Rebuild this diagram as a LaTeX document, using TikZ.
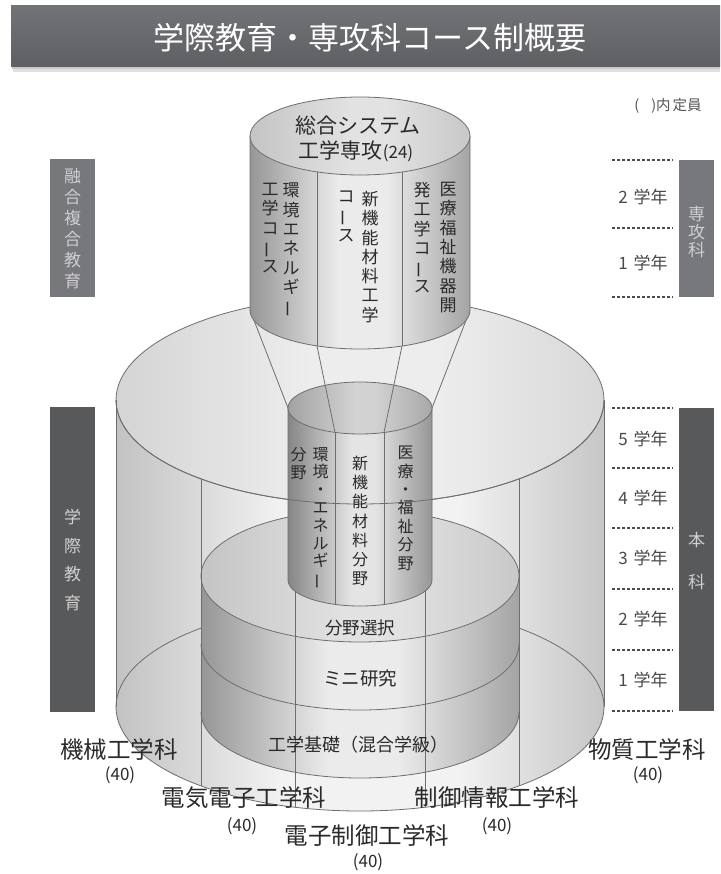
\documentclass[tikz,border=0pt]{standalone}
\usepackage{fontspec}
\setmainfont{Noto Sans CJK JP}
\usepackage{graphicx}
\definecolor{lineg}{HTML}{6E6E6E}
\definecolor{txt}{HTML}{2A2A2A}
\definecolor{titletop}{HTML}{727377}
\definecolor{titlebot}{HTML}{5E5F63}
\definecolor{boxlight}{HTML}{77787B}
\definecolor{boxdark}{HTML}{58595B}
\definecolor{boxtxt}{HTML}{CFCFCF}
\definecolor{os1}{HTML}{C2C2C2}\definecolor{os2}{HTML}{F2F2F2}\definecolor{os3}{HTML}{C6C6C6}
\definecolor{ot1}{HTML}{D4D4D4}\definecolor{ot2}{HTML}{EDEDED}\definecolor{ot3}{HTML}{D8D8D8}
\definecolor{ms1}{HTML}{969696}\definecolor{ms2}{HTML}{EBEBEB}\definecolor{ms3}{HTML}{A4A4A4}
\definecolor{mt1}{HTML}{C4C4C4}\definecolor{mt2}{HTML}{E2E2E2}\definecolor{mt3}{HTML}{C8C8C8}
\definecolor{is1}{HTML}{868686}\definecolor{is2}{HTML}{E4E4E4}\definecolor{is3}{HTML}{969696}
\definecolor{it1}{HTML}{A2A2A2}\definecolor{it2}{HTML}{D2D2D2}\definecolor{it3}{HTML}{A8A8A8}
\pgfdeclarehorizontalshading{outerside}{100bp}{color(0bp)=(os1); color(25bp)=(os1); color(42bp)=(os2); color(60bp)=(os2); color(75bp)=(os3); color(100bp)=(os3)}
\pgfdeclarehorizontalshading{outertop}{100bp}{color(0bp)=(ot1); color(25bp)=(ot1); color(45bp)=(ot2); color(58bp)=(ot2); color(75bp)=(ot3); color(100bp)=(ot3)}
\pgfdeclarehorizontalshading{midside}{100bp}{color(0bp)=(ms1); color(25bp)=(ms1); color(45bp)=(ms2); color(56bp)=(ms2); color(75bp)=(ms3); color(100bp)=(ms3)}
\pgfdeclarehorizontalshading{midtop}{100bp}{color(0bp)=(mt1); color(25bp)=(mt1); color(48bp)=(mt2); color(56bp)=(mt2); color(75bp)=(mt3); color(100bp)=(mt3)}
\pgfdeclarehorizontalshading{innside}{100bp}{color(0bp)=(is1); color(25bp)=(is1); color(47bp)=(is2); color(55bp)=(is2); color(75bp)=(is3); color(100bp)=(is3)}
\pgfdeclarehorizontalshading{inntop}{100bp}{color(0bp)=(it1); color(25bp)=(it1); color(48bp)=(it2); color(55bp)=(it2); color(75bp)=(it3); color(100bp)=(it3)}
\newcommand\vb{\rotatebox[origin=c]{90}{ー}}
\begin{document}
\begin{tikzpicture}[x=1pt,y=-1pt,
  ln/.style={draw=lineg, line width=0.8pt},
  vt/.style={anchor=north, align=center, inner sep=0pt, text=txt, font=\fontsize{17}{19.3}\selectfont},
  vti/.style={anchor=north, align=center, inner sep=0pt, text=txt, font=\fontsize{16}{17.8}\selectfont},
  lab/.style={text=txt, inner sep=0pt, font=\fontsize{17.5}{18}\selectfont},
  dept/.style={text=txt, inner sep=0pt, font=\fontsize{23.5}{24}\selectfont},
  numlab/.style={text=txt, inner sep=0pt, font=\fontsize{17}{17}\selectfont},
  yr/.style={text=txt!85, inner sep=0pt, font=\fontsize{17}{17}\selectfont},
  sidebox/.style={inner sep=0pt, align=center, text=boxtxt, font=\fontsize{17}{21}\selectfont},
  dsh/.style={draw=black!70, line width=1.2pt, dash pattern=on 3pt off 2pt}
]
\useasboundingbox (0,0) rectangle (720,874);
\fill[white] (0,0) rectangle (720,874);

% ---- title bar
\fill[black!12] (13,9) rectangle (720,72);
\fill[black!22] (12,8) rectangle (720,69);
\shade[top color=titletop, bottom color=titlebot] (11,6) rectangle (720,67);
\node[text=white, font=\fontsize{31}{31}\selectfont] (title) at (370,38) {学際教育・専攻科コース制概要};

% ---- outer cylinder (5 departments)
\shade[shading=outerside] (116,400) -- (116,707) arc[start angle=180, end angle=0, x radius=244, y radius=104] -- (604,400) arc[start angle=0, end angle=180, x radius=244, y radius=104] -- cycle;
\draw[ln] (360,707) ellipse[x radius=244, y radius=104];
\shade[shading=outertop] (360,400) ellipse[x radius=244, y radius=104];
\draw[ln] (360,400) ellipse[x radius=244, y radius=104];
\draw[ln] (116,400) -- (116,707) (604,400) -- (604,707);

% ---- middle cylinder (stack)
\shade[shading=midside] (201,576) -- (201,712) arc[start angle=180, end angle=0, x radius=159, y radius=66] -- (519,576) arc[start angle=0, end angle=180, x radius=159, y radius=66] -- cycle;
\shade[shading=midtop] (360,576) ellipse[x radius=159, y radius=66];
\draw[ln] (360,576) ellipse[x radius=159, y radius=66];
\draw[ln] (519,644) arc[start angle=0, end angle=180, x radius=159, y radius=66];
\draw[ln] (519,712) arc[start angle=0, end angle=180, x radius=159, y radius=66];

% ---- department dividers
\coordinate (d1t) at (201,478.9); \coordinate (d1b) at (201,785.9);
\coordinate (d2t) at (295,500.2); \coordinate (d2b) at (295,807.2);
\coordinate (d3t) at (425,500.2); \coordinate (d3b) at (425,807.2);
\coordinate (d4t) at (519,478.9); \coordinate (d4b) at (519,785.9);
\draw[ln] (d1t) -- (d1b) (d2t) -- (d2b) (d3t) -- (d3b) (d4t) -- (d4b);

% ---- inner cylinder (fields)
\shade[shading=innside] (288,408) -- (288,580) arc[start angle=180, end angle=0, x radius=72, y radius=26] -- (432,408) arc[start angle=0, end angle=180, x radius=72, y radius=26] -- cycle;
\draw[ln] (288,408) -- (288,580) arc[start angle=180, end angle=0, x radius=72, y radius=26] -- (432,408);
\shade[shading=inntop] (360,408) ellipse[x radius=72, y radius=26];
\draw[ln] (360,408) ellipse[x radius=72, y radius=26];
\coordinate (i1t) at (335,432.4); \coordinate (i1b) at (335,604.4);
\coordinate (i2t) at (384,432.5); \coordinate (i2b) at (384,604.5);
\draw[ln] (i1t) -- (i1b) (i2t) -- (i2b);
% outer top front arc seen across
\draw[ln] (604,400) arc[start angle=0, end angle=180, x radius=244, y radius=104];

% ---- funnel
\coordinate (fl) at (250,310); \coordinate (fr) at (470,310);
\coordinate (f1) at (317,345.9); \coordinate (f2) at (402,346);
\coordinate (gl) at (288,408); \coordinate (gr) at (432,408);
\draw[ln] (fl) -- (gl) (fr) -- (gr) (f1) -- (i1t) (f2) -- (i2t);

% ---- top cylinder (advanced course)
\shade[shading=midside] (250,136) -- (250,310) arc[start angle=180, end angle=0, x radius=110, y radius=39] -- (470,136) arc[start angle=0, end angle=180, x radius=110, y radius=39] -- cycle;
\draw[ln] (250,136) -- (250,310) arc[start angle=180, end angle=0, x radius=110, y radius=39] -- (470,136);
\shade[shading=midtop] (360,136) ellipse[x radius=110, y radius=39];
\draw[ln] (360,136) ellipse[x radius=110, y radius=39];
\coordinate (t1t) at (317,171.9); \coordinate (t2t) at (402,172);
\draw[ln] (t1t) -- (f1) (t2t) -- (f2);

% ---- texts on top cylinder
\node[lab, font=\fontsize{21}{21}\selectfont] (sogo1) at (358,126) {総合システム};
\node[lab, font=\fontsize{21}{21}\selectfont] (sogo2) at (356,151) {工学専攻{\fontsize{17}{17}\selectfont(24)}};
\node[vt] (c1a) at (291,183) {環\\境\\エ\\ネ\\ル\\ギ\\\vb};
\node[vt] (c1b) at (270,183) {工\\学\\コ\\\vb\\ス};
\node[vt] (c2a) at (370,191) {新\\機\\能\\材\\料\\工\\学};
\node[vt] (c2b) at (346,191) {コ\\\vb\\ス};
\node[vt] (c3a) at (448,182) {医\\療\\福\\祉\\機\\器\\開};
\node[vt] (c3b) at (422,182) {発\\工\\学\\コ\\\vb\\ス};

% ---- texts on inner cylinder
\node[vti] (b1a) at (320.5,447) {環\\境\\・\\エ\\ネ\\ル\\ギ\\\vb};
\node[vti] (b1b) at (298.5,447) {分\\野};
\node[vti, font=\fontsize{16}{19.2}\selectfont] (b2) at (360,456) {新\\機\\能\\材\\料\\分\\野};
\node[vti, font=\fontsize{16}{18.4}\selectfont] (b3) at (405.5,446) {医\\療\\・\\福\\祉\\分\\野};

% ---- texts on middle cylinder
\node[lab] (sel) at (360,628) {分野選択};
\node[lab, font=\fontsize{18.5}{19}\selectfont] (mini) at (360,678) {ミニ研究};
\node[lab, font=\fontsize{18}{19}\selectfont] (kiso) at (358,745) {工学基礎（混合学級）};

% ---- department labels
\node[dept] (kikai) at (119,750) {機械工学科};
\node[numlab] (kikain) at (120,775) {(40)};
\node[dept] (busshitsu) at (647,750) {物質工学科};
\node[numlab] (busshitsun) at (648,775) {(40)};
\node[dept] (denki) at (244,798) {電気電子工学科};
\node[numlab] (denkin) at (242,826) {(40)};
\node[dept] (seigyo) at (497,798) {制御情報工学科};
\node[numlab] (seigyon) at (497,826) {(40)};
\node[dept] (denshi) at (367,836) {電子制御工学科};
\node[numlab] (denshin) at (368,862) {(40)};

% ---- left boxes
\fill[boxlight] (50,159) rectangle (95,297);
\node[sidebox] (yugo) at (72.5,229) {融\\合\\複\\合\\教\\育};
\fill[boxdark] (50,407) rectangle (95,712);
\node[sidebox, font=\fontsize{17}{28.5}\selectfont] (gakusai) at (72.5,560) {学\\際\\教\\育};

% ---- right boxes
\fill[boxlight] (679,160) rectangle (714,297);
\node[sidebox, font=\fontsize{17}{18}\selectfont] (senko) at (696.5,232) {専\\攻\\科};
\fill[boxdark] (679,408) rectangle (714,711);
\node[sidebox, font=\fontsize{17}{42}\selectfont] (honka) at (696.5,561) {本\\科};

% ---- note
\node[text=txt!80, inner sep=0pt, font=\fontsize{14.5}{14.5}\selectfont] (note) at (668,106) {(\hspace{12pt})内\hspace{2pt}定員};

% ---- year scale
\foreach \yy in {160,228,297,408,468,528,589,650,711} \draw[dsh] (612,\yy) -- (673,\yy);
\node[yr] (s2) at (643,197) {2\hspace{6pt}学年};
\node[yr] (s1) at (643,263) {1\hspace{6pt}学年};
\node[yr] (h5) at (643,439) {5\hspace{6pt}学年};
\node[yr] (h4) at (643,498) {4\hspace{6pt}学年};
\node[yr] (h3) at (643,558) {3\hspace{6pt}学年};
\node[yr] (h2) at (643,619) {2\hspace{6pt}学年};
\node[yr] (h1) at (643,680) {1\hspace{6pt}学年};
\end{tikzpicture}
\end{document}
